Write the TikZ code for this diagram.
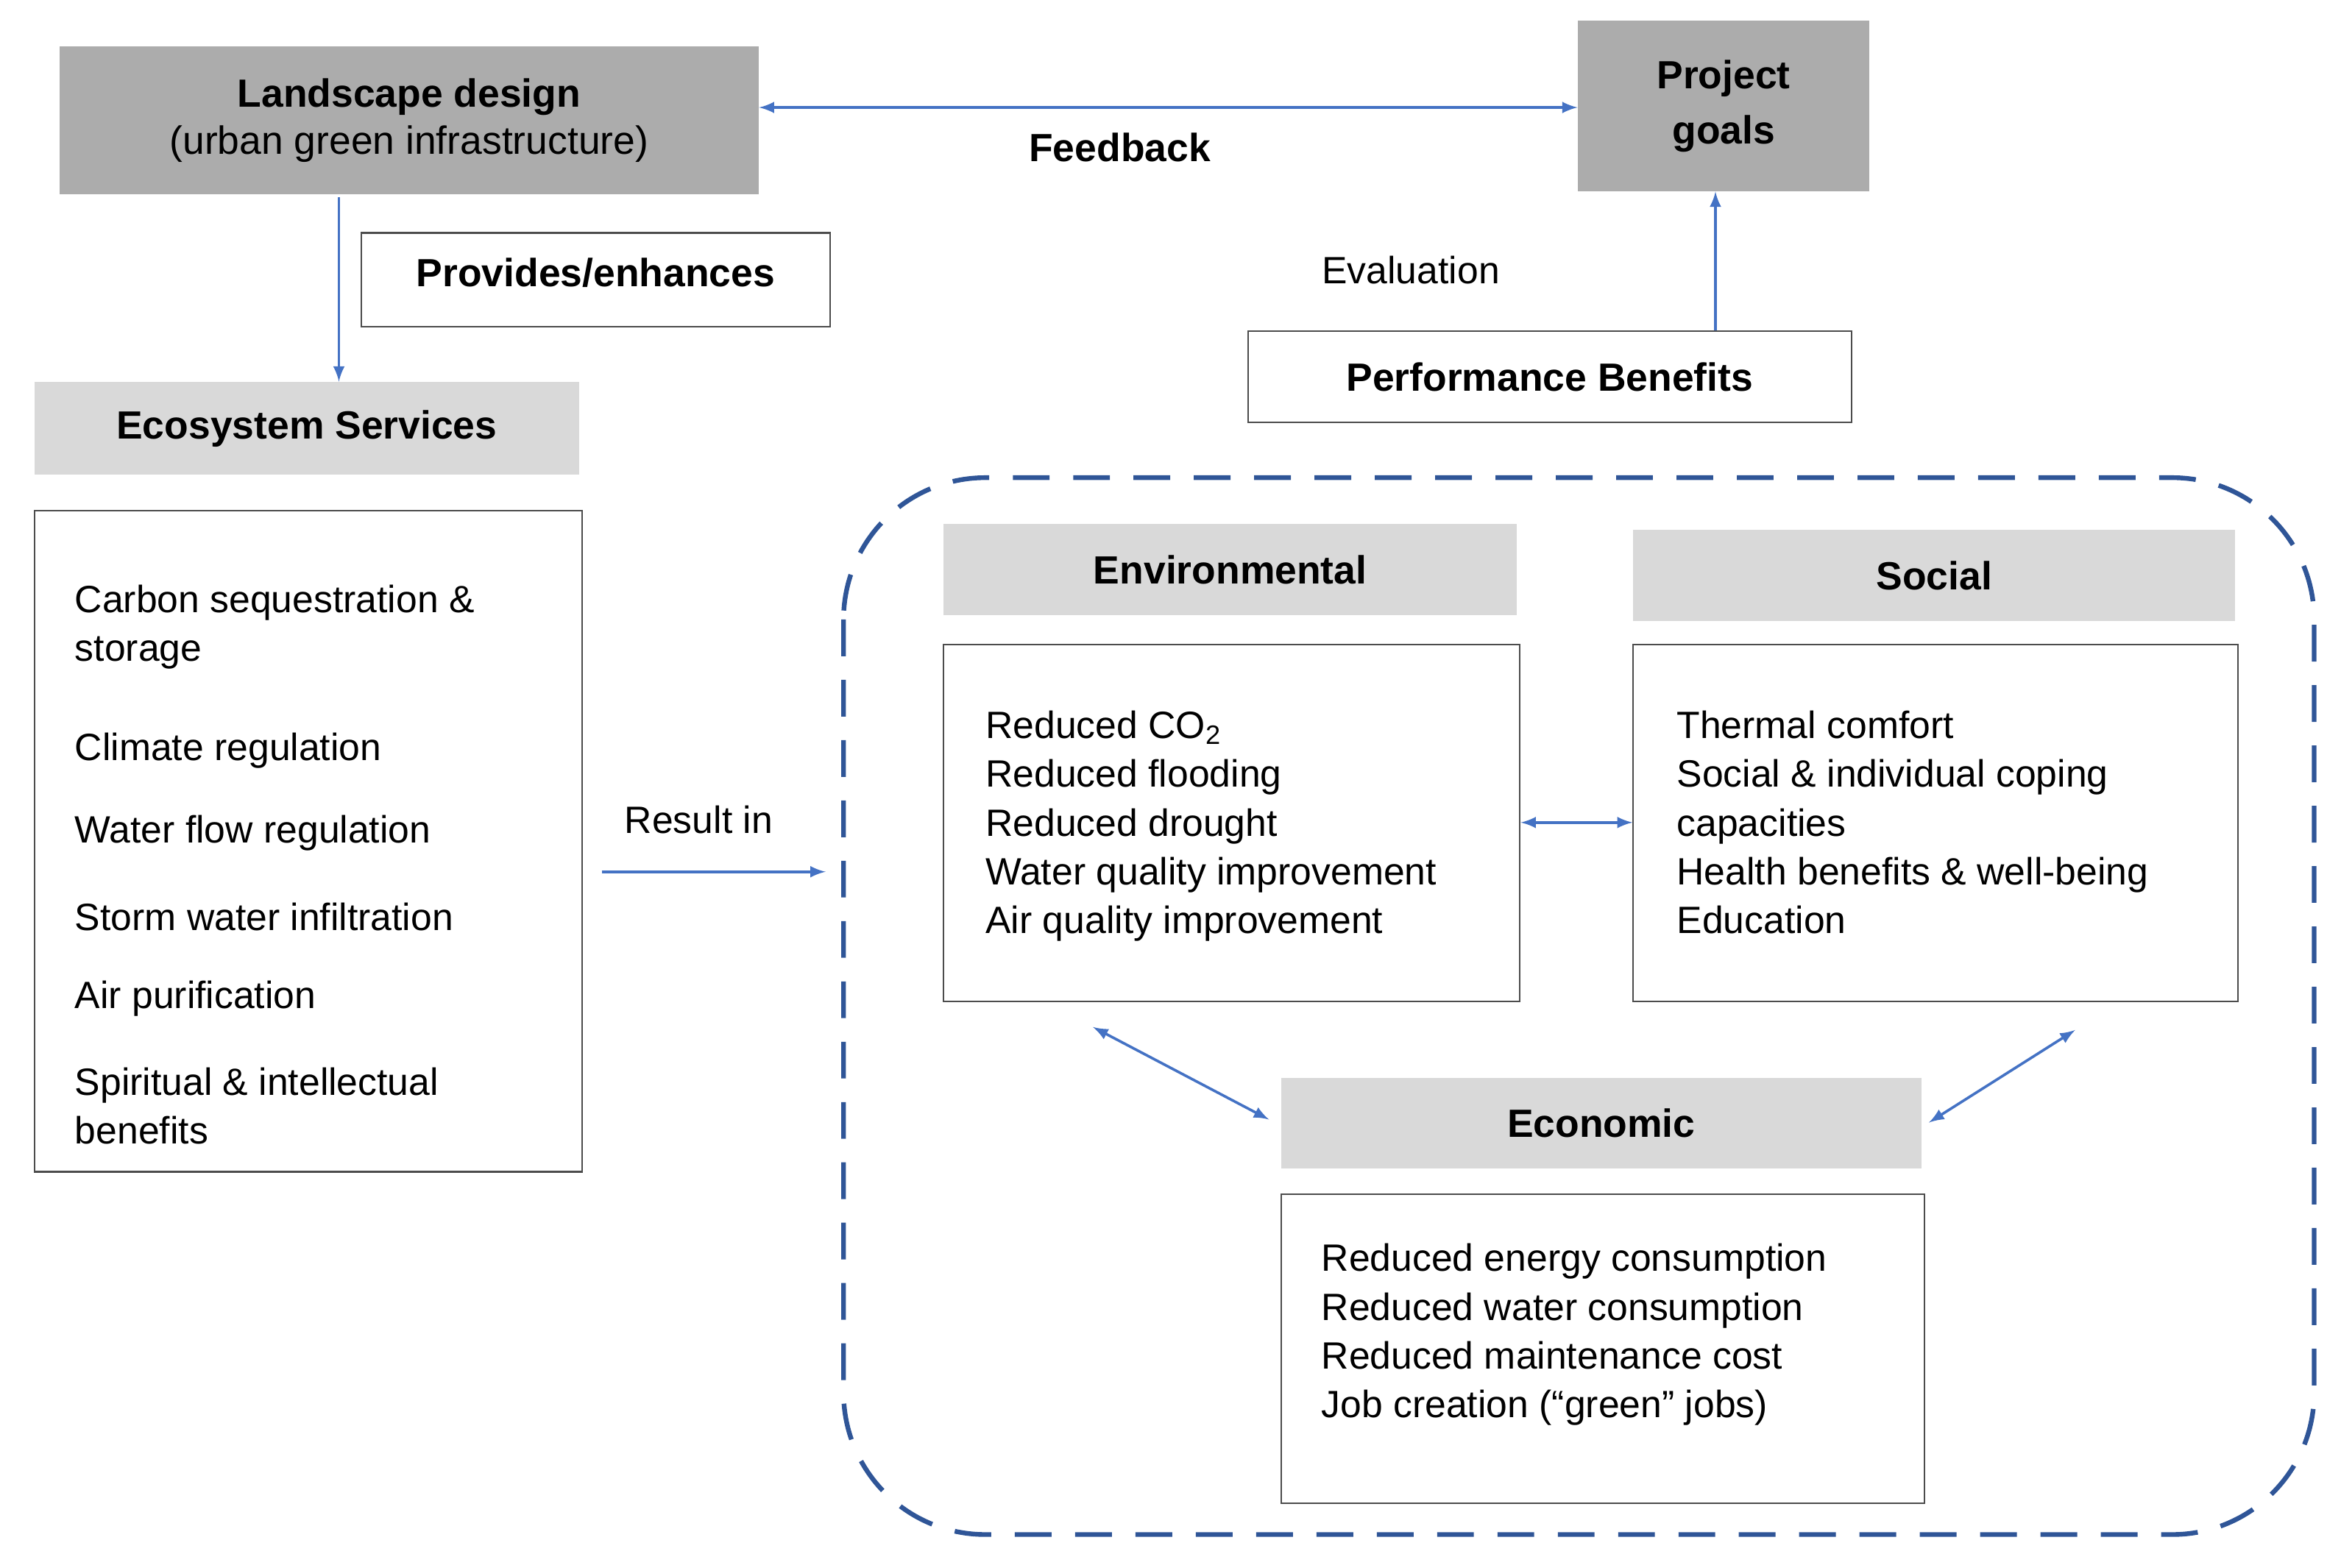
\documentclass[tikz,border=0pt]{standalone}
\usepackage{fontspec}
\setmainfont{Liberation Sans}
\begin{document}
\begin{tikzpicture}[x=0.02cm,y=-0.02cm,
  txt/.style={font=\fontsize{14.5}{18.6}\selectfont},
  hd/.style={font=\fontsize{15}{19}\selectfont\bfseries},
  dark/.style={fill=gray!65,draw=none},
  light/.style={fill=gray!30,draw=none},
  wbox/.style={draw=black!70,line width=0.6pt,fill=white},
  arr/.style={draw={rgb,255:red,68;green,114;blue,196},line width=1pt,-latex},
  darr/.style={draw={rgb,255:red,68;green,114;blue,196},line width=1pt,latex-latex}]
\useasboundingbox (0,0) rectangle (1568,1050);
% top
\node[dark,minimum width=468*0.02cm,minimum height=99*0.02cm,hd,align=center] (ld) at (274,80.5) {Landscape design\\[-1pt]\normalfont(urban green infrastructure)};
\node[dark,minimum width=195*0.02cm,minimum height=114*0.02cm,hd,align=center] (pg) at (1154.5,71) {Project\\[2pt]goals};
\draw[darr] (ld.east|-0,72) -- (pg.west|-0,72);
\node[hd] (fb) at (750,99) {Feedback};
\node[wbox,minimum width=314*0.02cm,minimum height=63*0.02cm,hd] (pe) at (399,187.5) {\raisebox{6pt}{Provides/enhances}};
\node[light,minimum width=365*0.02cm,minimum height=62*0.02cm,hd] (es) at (205.5,287) {Ecosystem Services};
\draw[arr] (227,132) -- (es.north-|227,0);
\node[txt] (ev) at (945,181) {Evaluation};
\node[wbox,minimum width=404*0.02cm,minimum height=61*0.02cm,hd] (pb) at (1038,252.5) {Performance Benefits};
\draw[arr] (pb.north-|1149,0) -- (pg.south-|1149,0);
% ecosystem list
\node[wbox,minimum width=367*0.02cm,minimum height=443*0.02cm] (el) at (206.5,563.5) {};
\begin{scope}[every node/.style={txt,anchor=west,align=left}]
\node (e1) at (44,420) {Carbon sequestration \&\\storage};
\node (e2) at (44,503) {Climate regulation};
\node (e3) at (44,558) {Water flow regulation};
\node (e4) at (44,614) {Storm water infiltration};
\node (e5) at (44,669) {Air purification};
\node (e6) at (44,741) {Spiritual \& intellectual\\benefits};
\end{scope}
% dashed
\draw[draw={rgb,255:red,47;green,85;blue,151},line width=1.8pt,dash pattern=on 14pt off 9pt,rounded corners=95*0.02cm] (565,320) rectangle (1550,1028);
\coordinate (ri) at (553,584);
\node[txt] (rt) at (468,549) {Result in};
\draw[arr] (403,584) -- (ri);
% env
\node[light,minimum width=384*0.02cm,minimum height=61*0.02cm,hd] (envh) at (824,381.5) {Environmental};
\node[wbox,minimum width=386*0.02cm,minimum height=239*0.02cm] (envb) at (825,551.5) {};
\node[txt,anchor=north west,align=left] (envt) at (654,470) {Reduced CO\textsubscript{2}\\Reduced flooding\\Reduced drought\\Water quality improvement\\Air quality improvement};
\node[light,minimum width=403*0.02cm,minimum height=61*0.02cm,hd] (soh) at (1295.5,385.5) {Social};
\node[wbox,minimum width=405*0.02cm,minimum height=239*0.02cm] (sob) at (1296.5,551.5) {};
\node[txt,anchor=north west,align=left] (sot) at (1117,470) {Thermal comfort\\Social \& individual coping\\capacities\\Health benefits \& well-being\\Education};
\draw[darr] (envb.east|-0,551) -- (sob.west|-0,551);
\node[light,minimum width=429*0.02cm,minimum height=61*0.02cm,hd] (ech) at (1072.5,752.5) {Economic};
\node[wbox,minimum width=431*0.02cm,minimum height=207*0.02cm] (ecb) at (1073.5,903.5) {};
\node[txt,anchor=north west,align=left] (ect) at (879,827) {Reduced energy consumption\\Reduced water consumption\\Reduced maintenance cost\\Job creation (“green” jobs)};
\coordinate (a1) at (732,688);
\coordinate (a2) at (1390,690);
\draw[darr] (a1) -- (850,750);
\draw[darr] (a2) -- (1292,752);
\end{tikzpicture}
\end{document}
